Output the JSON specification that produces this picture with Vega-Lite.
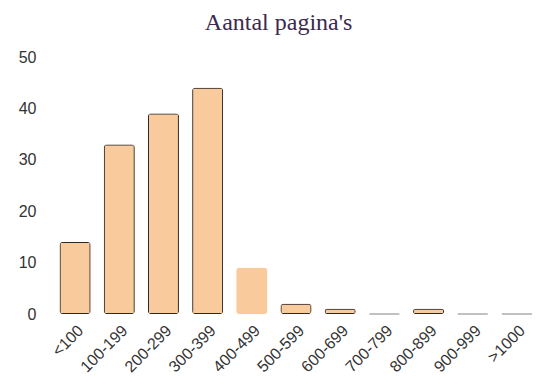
{
  "$schema": "https://vega.github.io/schema/vega-lite/v6.json",
  "width": 486,
  "height": 257,
  "autosize": "none",
  "padding": {"left": 53, "top": 57, "right": 9, "bottom": 77},
  "background": "white",
  "title": {
    "text": "Aantal pagina's",
    "font": "Liberation Serif",
    "fontSize": 24,
    "fontWeight": "normal",
    "color": "#3b2a50",
    "anchor": "middle",
    "frame": "bounds",
    "offset": 14
  },
  "data": {
    "values": [
      {"bereik": "<100", "aantal": 14, "hl": "n"},
      {"bereik": "100-199", "aantal": 33, "hl": "n"},
      {"bereik": "200-299", "aantal": 39, "hl": "n"},
      {"bereik": "300-399", "aantal": 44, "hl": "n"},
      {"bereik": "400-499", "aantal": 9, "hl": "y"},
      {"bereik": "500-599", "aantal": 2, "hl": "n"},
      {"bereik": "600-699", "aantal": 1, "hl": "n"},
      {"bereik": "700-799", "aantal": 0, "hl": "n"},
      {"bereik": "800-899", "aantal": 1, "hl": "n"},
      {"bereik": "900-999", "aantal": 0, "hl": "n"},
      {"bereik": ">1000", "aantal": 0, "hl": "n"}
    ]
  },
  "encoding": {
    "x": {
      "field": "bereik",
      "type": "nominal",
      "sort": null,
      "scale": {"paddingInner": 0.3, "paddingOuter": 0.15},
      "axis": {
        "title": null,
        "labelAngle": -45,
        "labelAlign": "right",
        "labelBaseline": "top",
        "labelFont": "Liberation Sans",
        "labelFontSize": 16,
        "labelColor": "#333333",
        "labelLimit": 200,
        "domain": false,
        "ticks": false,
        "labelPadding": 8
      }
    },
    "y": {
      "field": "aantal",
      "type": "quantitative",
      "scale": {"domain": [0, 50]},
      "axis": {
        "title": null,
        "values": [0, 10, 20, 30, 40, 50],
        "labelFont": "Liberation Sans",
        "labelFontSize": 16,
        "labelColor": "#333333",
        "domain": false,
        "ticks": false,
        "grid": false,
        "labelPadding": 17
      }
    }
  },
  "layer": [
    {
      "mark": {"type": "bar", "fill": "#f9cb9c", "cornerRadius": 3, "strokeWidth": 2},
      "encoding": {
        "stroke": {
          "field": "hl",
          "type": "nominal",
          "scale": {"domain": ["n", "y"], "range": ["#2a2a2a", "#f9cb9c"]},
          "legend": null
        }
      }
    },
    {
      "transform": [{"filter": "datum.aantal == 0"}],
      "mark": {"type": "tick", "color": "#8a8a8a", "thickness": 1.5, "orient": "horizontal"},
      "encoding": {
        "size": {"value": 30}
      }
    }
  ],
  "config": {"view": {"stroke": null}}
}
